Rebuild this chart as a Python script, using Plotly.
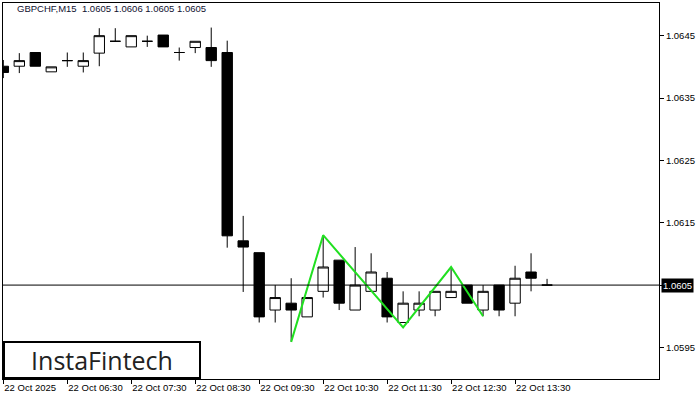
import plotly.graph_objects as go

# 15-minute bars, 22 Oct 2025, 05:30 .. 14:00
bar_index = list(range(35))
opens = [1.06401, 1.06401, 1.06423, 1.06392, 1.06410, 1.06401, 1.06422, 1.06441, 1.06432, 1.06441,
         1.06451, 1.06423, 1.06431, 1.06431, 1.06423, 1.06121, 1.06102, 1.06010, 1.06021, 1.05999,
         1.06040, 1.06090, 1.06010, 1.06040, 1.06061, 1.05990, 1.06010, 1.06010, 1.06030, 1.06050,
         1.06010, 1.06050, 1.06021, 1.06071, 1.06050]
highs = [1.06411, 1.06422, 1.06423, 1.06400, 1.06423, 1.06423, 1.06462, 1.06462, 1.06450, 1.06450,
         1.06451, 1.06431, 1.06441, 1.06463, 1.06442, 1.06161, 1.06102, 1.06050, 1.06061, 1.06030,
         1.06130, 1.06090, 1.06111, 1.06101, 1.06071, 1.06040, 1.06040, 1.06040, 1.06079, 1.06050,
         1.06050, 1.06050, 1.06081, 1.06101, 1.06060]
lows = [1.06382, 1.06390, 1.06401, 1.06392, 1.06400, 1.06391, 1.06401, 1.06441, 1.06432, 1.06432,
        1.06432, 1.06410, 1.06422, 1.06400, 1.06110, 1.06039, 1.05990, 1.05990, 1.05959, 1.05999,
        1.06030, 1.06010, 1.06010, 1.06040, 1.05990, 1.05990, 1.06000, 1.06000, 1.06030, 1.06021,
        1.06000, 1.06000, 1.06000, 1.06040, 1.06050]
closes = [1.06391, 1.06410, 1.06401, 1.06400, 1.06410, 1.06410, 1.06450, 1.06441, 1.06450, 1.06441,
          1.06432, 1.06423, 1.06441, 1.06410, 1.06129, 1.06111, 1.05999, 1.06030, 1.06010, 1.06030,
          1.06079, 1.06021, 1.06050, 1.06071, 1.05999, 1.06021, 1.06021, 1.06040, 1.06040, 1.06021,
          1.06040, 1.06010, 1.06061, 1.06061, 1.06050]

# pattern outline
pattern_x = [18, 20, 25, 28, 30]
pattern_y = [1.05959, 1.06130, 1.05982, 1.06079, 1.06000]

last_price = 1.0605

tick_pos = [0, 4, 8, 12, 16, 20, 24, 28, 32]
tick_text = ['22 Oct 2025', '22 Oct 06:30', '22 Oct 07:30', '22 Oct 08:30', '22 Oct 09:30',
             '22 Oct 10:30', '22 Oct 11:30', '22 Oct 12:30', '22 Oct 13:30']
price_ticks = [1.0595, 1.0605, 1.0615, 1.0625, 1.0635, 1.0645]
price_text = ['1.0595', '', '1.0615', '1.0625', '1.0635', '1.0645']

FONT = 'Tahoma, Liberation Sans, Arial, sans-serif'

fig = go.Figure()
fig.add_trace(go.Candlestick(
    x=bar_index, open=opens, high=highs, low=lows, close=closes,
    increasing=dict(fillcolor='white', line=dict(color='black', width=1)),
    decreasing=dict(fillcolor='black', line=dict(color='black', width=1)),
    whiskerwidth=0, showlegend=False, hoverinfo='skip',
))
fig.add_trace(go.Scatter(
    x=pattern_x, y=pattern_y, mode='lines',
    line=dict(color='#20E020', width=2), showlegend=False, hoverinfo='skip',
))

fig.add_shape(type='line', xref='paper', x0=0, x1=1, yref='y', y0=last_price, y1=last_price,
              line=dict(color='black', width=1))

fig.add_annotation(xref='paper', x=1, xanchor='left', xshift=2, yref='y', y=last_price,
                   text='1.0605', showarrow=False, bgcolor='black',
                   font=dict(color='white', size=9.5, family=FONT), borderpad=1)
fig.add_annotation(xref='paper', yref='paper', x=0.018, y=0.985, xanchor='left', yanchor='middle',
                   text='GBPCHF,M15  1.0605 1.0606 1.0605 1.0605', showarrow=False,
                   font=dict(color='#101030', size=9.5, family=FONT))
fig.add_annotation(xref='paper', yref='paper', x=0.0, y=0.0, xanchor='left', yanchor='bottom',
                   text='InstaFintech', showarrow=False, bgcolor='white',
                   bordercolor='black', borderwidth=2, borderpad=4,
                   width=186, height=26,
                   font=dict(color='#222222', size=25, family='Open Sans, Lato, sans-serif'))

fig.update_layout(
    width=700, height=400,
    paper_bgcolor='white', plot_bgcolor='white',
    margin=dict(l=3, r=41, t=3, b=21),
    boxgap=0.35, boxgroupgap=0,
    font=dict(family=FONT, size=9.5, color='black'),
    xaxis=dict(range=[-0.02, 41], tickvals=tick_pos, ticktext=tick_text,
               ticklabelposition='outside right', ticks='outside', ticklen=4, tickcolor='black',
               showline=True, linecolor='black', linewidth=1, mirror=True,
               showgrid=False, zeroline=False, rangeslider=dict(visible=False), fixedrange=True),
    yaxis=dict(range=[1.058994, 1.065024], side='right', tickvals=price_ticks, ticktext=price_text,
               ticks='outside', ticklen=4, tickcolor='black',
               showline=True, linecolor='black', linewidth=1, mirror=True,
               showgrid=False, zeroline=False, fixedrange=True),
)

fig.write_html('out.html', config={'displayModeBar': False},
               post_script="document.body.style.margin='0';document.body.style.overflow='hidden';")
